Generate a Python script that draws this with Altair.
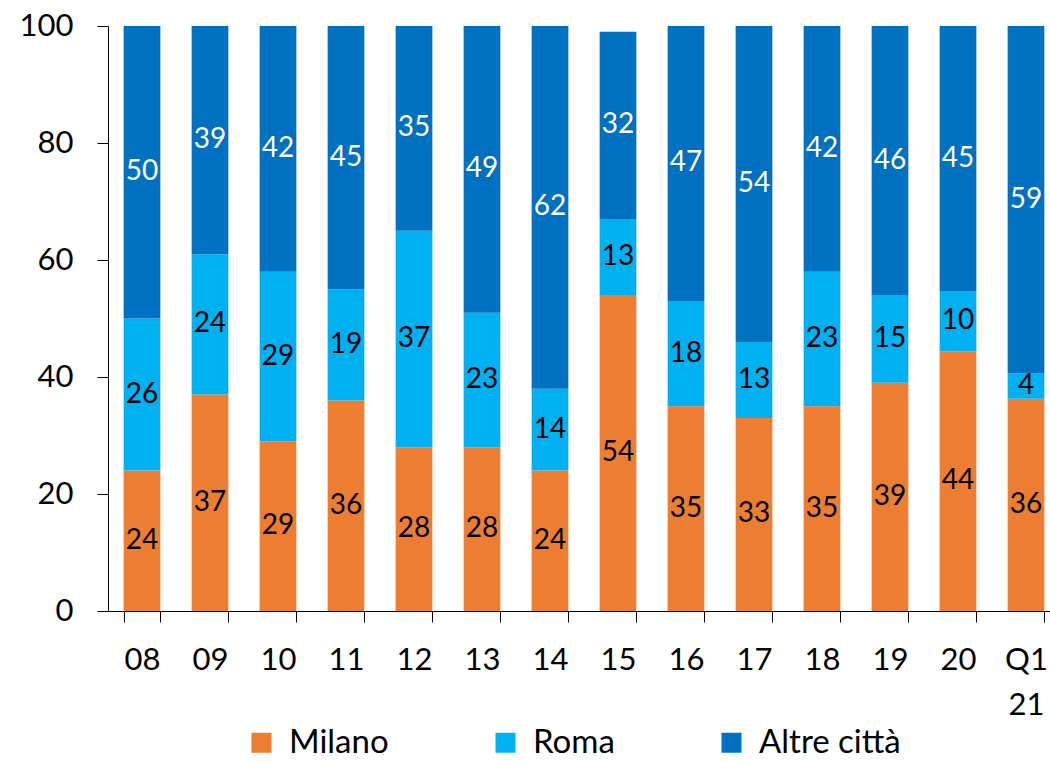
import altair as alt
import pandas as pd

# Share of volume by city, per period (%)
periods = ["08", "09", "10", "11", "12", "13", "14", "15", "16", "17", "18", "19", "20", "Q1 21"]
milano = [24, 37, 29, 36, 28, 28, 24, 54, 35, 33, 35, 39, 44.4, 36.3]
roma = [26, 24, 29, 19, 37, 23, 14, 13, 18, 13, 23, 15, 10.3, 4.3]
altre = [50, 39, 42, 45, 35, 49, 62, 32, 47, 54, 42, 46, 45.3, 59.4]

series = ["Milano", "Roma", "Altre città"]
colors = ["#ED7D31", "#00B0F0", "#0070C0"]
FONT = "Lato"

rows = []
for i, p in enumerate(periods):
    for k, (name, vals) in enumerate(zip(series, [milano, roma, altre])):
        rows.append({"periodo": p, "serie": name, "ordine": k, "valore": vals[i]})
df = pd.DataFrame(rows)

base = alt.Chart(df).transform_stack(
    stack="valore",
    groupby=["periodo"],
    sort=[alt.SortField("ordine", order="ascending")],
    as_=["y0", "y1"],
).transform_calculate(ymid="(datum.y0 + datum.y1) / 2")

x_enc = alt.X(
    "periodo:N",
    sort=periods,
    scale=alt.Scale(paddingInner=0.46, paddingOuter=0.23, range=[0, 952]),
    axis=alt.Axis(
        title=None,
        labelAngle=0,
        labelExpr="isValid(datum.value) ? split(datum.value, ' ') : ''",
        labelFont=FONT,
        labelFontSize=31,
        labelColor="#000000",
        labelLineHeight=45,
        labelPadding=23,
        tickBand="extent",
        tickSize=11,
        tickColor="#000000",
        domainColor="#000000",
    ),
)

y_scale = alt.Scale(domain=[0, 100], nice=False)

bars = base.mark_bar(strokeWidth=0).encode(
    x=x_enc,
    y=alt.Y(
        "y0:Q",
        scale=y_scale,
        axis=alt.Axis(
            title=None,
            values=[0, 20, 40, 60, 80, 100],
            grid=False,
            labelFont=FONT,
            labelFontSize=31,
            labelColor="#000000",
            labelPadding=24,
            tickSize=11,
            tickColor="#000000",
            domainColor="#000000",
        ),
    ),
    y2="y1:Q",
    color=alt.Color(
        "serie:N",
        sort=series,
        scale=alt.Scale(domain=series, range=colors),
        legend=alt.Legend(
            title=None,
            orient="none",
            direction="horizontal",
            legendX=137,
            legendY=700,
            symbolType="square",
            symbolSize=400,
            symbolStrokeWidth=0,
            labelFont=FONT,
            labelFontSize=33,
            labelColor="#000000",
            labelOffset=11,
            labelLimit=300,
            columnPadding=100,
            padding=0,
        ),
    ),
)

labels = base.mark_text(font=FONT, fontSize=28, baseline="middle", align="center").encode(
    x=alt.X("periodo:N", sort=periods),
    y=alt.Y("ymid:Q", scale=y_scale),
    text=alt.Text("valore:Q", format=".0f"),
    color=alt.condition("datum.serie == 'Altre città'", alt.value("white"), alt.value("black")),
)

chart = (
    alt.layer(bars, labels)
    .properties(
        width=942,
        height=585,
        autosize=alt.AutoSizeParams(type="none"),
        padding={"left": 108, "top": 26, "right": 0, "bottom": 150},
        background="white",
    )
    .configure_view(stroke=None)
)

chart.save("out.html", embed_options={"renderer": "svg", "actions": False})
